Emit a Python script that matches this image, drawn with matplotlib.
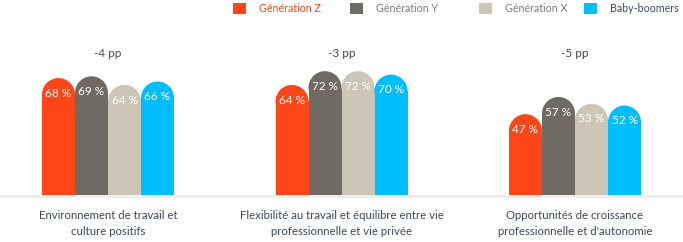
import matplotlib
matplotlib.use("Agg")
import matplotlib.pyplot as plt
from matplotlib.patches import Ellipse, Rectangle

plt.rcParams['font.family'] = ['Lato', 'DejaVu Sans']

categories = ["Environnement de travail et\nculture positifs",
              "Flexibilité au travail et équilibre entre vie\nprofessionnelle et vie privée",
              "Opportunités de croissance\nprofessionnelle et d'autonomie"]
deltas = ["-4 pp", "-3 pp", "-5 pp"]
series = ["Génération Z", "Génération Y", "Génération X", "Baby-boomers"]
values = {
    "Génération Z": [68, 64, 47],
    "Génération Y": [69, 72, 57],
    "Génération X": [64, 72, 53],
    "Baby-boomers": [66, 70, 52],
}
colors = ["#FF4619", "#6F6A62", "#CCC6B7", "#00BEFF"]
legend_text_colors = ["#FF4619", "#7A7A7A", "#7A7A7A", "#3D4A66"]
text_col = "#3D4A5C"

W, H = 683, 242
fig = plt.figure(figsize=(W / 100, H / 100), dpi=100)
ax = fig.add_axes([0, 0, 1, 1])

px_per_pct = 1.72
base_px = 47
grp_px = 233.5
x0_px = 108
ax.set_ylim(-base_px / px_per_pct, (H - base_px) / px_per_pct)
ax.set_xlim(-x0_px / grp_px, (W - x0_px) / grp_px)
ax.axis("off")

bw = 33 / grp_px
r_y = 16.5 / px_per_pct

ax.axhline(-0.6, color="#EEEEEE", lw=2, zorder=0)

for i, s in enumerate(series):
    for g, v in enumerate(values[s]):
        xc = g + (i - 1.5) * bw
        ax.add_patch(Rectangle((xc - bw / 2, 0), bw, v - r_y, color=colors[i], lw=0))
        ax.add_patch(Ellipse((xc, v - r_y), bw, 2 * r_y, color=colors[i], lw=0))
        ax.text(xc, v - 8.8, f"{v} %", ha="center", va="center", color="white",
                fontsize=8.5, zorder=5)

for g, (c, d) in enumerate(zip(categories, deltas)):
    ax.text(g, 82, d, ha="center", va="center", color=text_col, fontsize=8.5)
    ax.text(g, -16.6, c, ha="center", va="center", color=text_col, fontsize=8.2,
            linespacing=1.5)

# legend
sq_x = [233, 350, 479, 584]
for i, s in enumerate(series):
    fig.patches.append(Rectangle((sq_x[i] / W, 1 - 14 / H), 13 / W, 11 / H,
                                 transform=fig.transFigure, color=colors[i], lw=0))
    fig.text((sq_x[i] + 26) / W, 1 - 8.5 / H, s, ha="left", va="center",
             color=legend_text_colors[i], fontsize=7.7)

fig.savefig("out.png", dpi=100)
